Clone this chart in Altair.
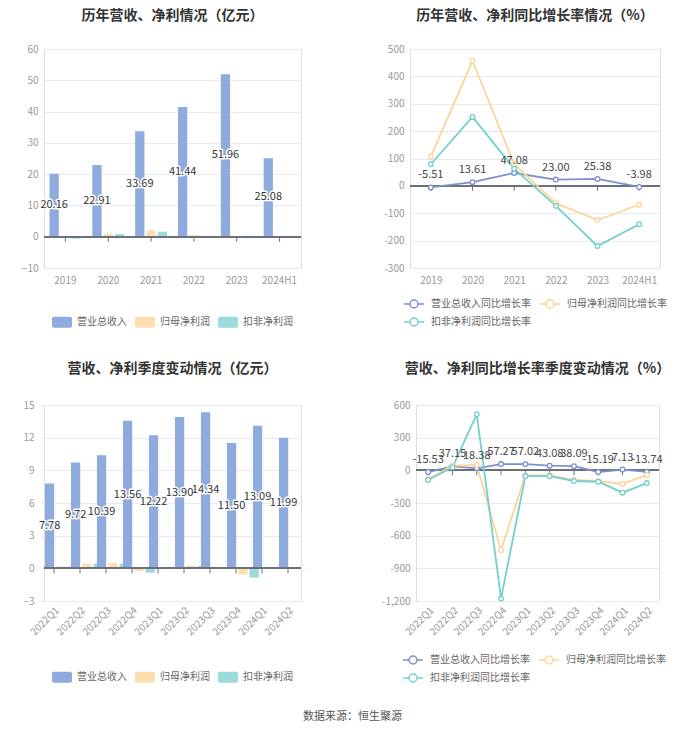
import altair as alt
import pandas as pd

FONT = "Noto Sans CJK SC"

# ---------------- data ----------------
years = ["2019", "2020", "2021", "2022", "2023", "2024H1"]
rev_annual = [20.16, 22.91, 33.69, 41.44, 51.96, 25.08]
np_annual = [-0.10, 0.95, 2.00, 0.60, -0.15, 0.10]
dnp_annual = [-0.60, 0.85, 1.60, 0.30, -0.50, 0.05]

rev_growth_annual = [-5.51, 13.61, 47.08, 23.00, 25.38, -3.98]
np_growth_annual = [107, 457, 79, -63, -125, -69]
dnp_growth_annual = [79, 252, 63, -73, -220, -140]

quarters = ["2022Q1", "2022Q2", "2022Q3", "2022Q4", "2023Q1",
            "2023Q2", "2023Q3", "2023Q4", "2024Q1", "2024Q2"]
rev_q = [7.78, 9.72, 10.39, 13.56, 12.22, 13.90, 14.34, 11.50, 13.09, 11.99]
np_q = [0.18, 0.43, 0.49, -0.24, 0.09, 0.24, 0.01, -0.55, 0.02, 0.12]
dnp_q = [0.15, 0.43, 0.43, -0.40, 0.06, 0.21, 0.01, -0.85, 0.00, 0.01]

rev_growth_q = [-15.53, 37.15, 18.38, 57.27, 57.02, 43.08, 38.09, -15.19, 7.13, -13.74]
np_growth_q = [-80, 42, 49, -733, -47, -47, -88, -100, -125, -42]
dnp_growth_q = [-89, 28, 515, -1178, -53, -53, -98, -105, -205, -117]

bar_series = ["营业总收入", "归母净利润", "扣非净利润"]
bar_colors = ["#8FAADC", "#FDDFAE", "#9ADCDC"]
line_series = ["营业总收入同比增长率", "归母净利润同比增长率", "扣非净利润同比增长率"]
line_colors = ["#7B90CC", "#FCD598", "#74CFCF"]

AXIS_COLOR = "#6E7079"
GRID_COLOR = "#E6E9F0"
LABEL_COLOR = "#999999"

BAR_SYMBOL = ("M-0.8,-0.55H0.8A0.2,0.2,0,0,1,1,-0.35V0.35A0.2,0.2,0,0,1,0.8,0.55"
              "H-0.8A0.2,0.2,0,0,1,-1,0.35V-0.35A0.2,0.2,0,0,1,-0.8,-0.55Z")
LINE_SYMBOL = ("M-1,0L-0.4,0M0.4,0L1,0M0.4,0A0.4,0.4,0,1,1,-0.4,0"
               "A0.4,0.4,0,1,1,0.4,0Z")


def y_axis(values, ext, fmt_expr=None, pad=6):
    kw = dict(values=values, grid=True, gridColor=GRID_COLOR, domain=False,
              ticks=False, labelColor=LABEL_COLOR, labelFontSize=10,
              labelFont=FONT, labelPadding=pad, title=None, labelOverlap=False,
              labelBound=False, minExtent=ext, maxExtent=ext)
    if fmt_expr:
        kw["labelExpr"] = fmt_expr
    return alt.Axis(**kw)


def x_axis(angle):
    kw = dict(domain=False, ticks=False, labelColor=LABEL_COLOR,
              labelFontSize=10, labelFont=FONT, title=None, grid=False,
              labelOverlap=False)
    if angle:
        kw.update(labelAngle=angle, labelPadding=4)
    else:
        kw.update(labelAngle=0, labelPadding=7)
    return alt.Axis(**kw)


def bar_panel(cats, rev, np_, dnp, dom, step, width, height, ext, title, toff,
              angle, pad_inner, tick_len, legend_x, legend_y, xrange=None, ypad=6):
    rows = []
    for i, c in enumerate(cats):
        for s, arr in zip(bar_series, [rev, np_, dnp]):
            rows.append({"cat": c, "series": s, "value": arr[i],
                         "label": f"{arr[i]:.2f}"})
    df = pd.DataFrame(rows)
    ticks = list(range(dom[0], dom[1] + 1, step))
    yax = y_axis(ticks, ext, pad=ypad)
    skw = dict(domain=cats, paddingInner=pad_inner, paddingOuter=pad_inner / 2)
    if xrange:
        skw["range"] = xrange
    xs = alt.Scale(**skw)
    x = alt.X("cat:N", sort=cats, scale=xs, axis=x_axis(angle))
    xo = alt.XOffset("series:N", sort=bar_series,
                     scale=alt.Scale(domain=bar_series, paddingInner=0.18,
                                     paddingOuter=0.05))
    ys = alt.Scale(domain=dom, nice=False, zero=False)
    base = alt.Chart(df)
    bars = base.mark_bar().encode(
        x=x, xOffset=xo,
        y=alt.Y("value:Q", scale=ys, axis=yax),
        color=alt.Color("series:N", sort=bar_series,
                        scale=alt.Scale(domain=bar_series, range=bar_colors),
                        legend=alt.Legend(
                            title=None, orient="none", direction="horizontal",
                            columns=3, columnPadding=8, legendX=legend_x,
                            legendY=legend_y,
                            symbolType=BAR_SYMBOL, symbolSize=400,
                            symbolStrokeWidth=0, labelFontSize=10,
                            labelFont=FONT, labelColor="#666666",
                            labelOffset=5)),
    )
    zero = base.mark_rule(color=AXIS_COLOR, strokeWidth=1).encode(
        y=alt.Y(datum=0, scale=ys, axis=yax))
    tk = base.transform_filter(alt.datum.series == bar_series[0]).transform_calculate(
        t0="0", t1=str(-tick_len)).mark_rule(color=AXIS_COLOR, strokeWidth=1).encode(
        x=x, y=alt.Y("t0:Q", scale=ys, axis=yax), y2="t1:Q")
    lab = base.transform_filter(alt.datum.series == bar_series[0]).transform_calculate(
        mid="datum.value / 2")
    halo = lab.mark_text(fontSize=11, font=FONT, stroke="white", strokeWidth=3,
                         strokeJoin="round", color="white").encode(
        x=x, xOffset=xo, y=alt.Y("mid:Q", scale=ys, axis=yax), text="label:N")
    txt = lab.mark_text(fontSize=11, font=FONT, color="#333333").encode(
        x=x, xOffset=xo, y=alt.Y("mid:Q", scale=ys, axis=yax), text="label:N")
    return alt.layer(bars, zero, tk, halo, txt).properties(
        width=width, height=height,
        title=alt.TitleParams(title, fontSize=14, font=FONT, fontWeight="bold",
                              color="#333333", anchor="middle", offset=toff))


def line_panel(cats, rev, np_, dnp, dom, step, width, height, ext, title, toff,
               angle, tick_len, legend_x, legend_y, fmt_expr):
    rows = []
    for i, c in enumerate(cats):
        for s, arr in zip(line_series, [rev, np_, dnp]):
            rows.append({"cat": c, "series": s, "value": arr[i],
                         "label": f"{arr[i]:.2f}"})
    df = pd.DataFrame(rows)
    ticks = list(range(dom[0], dom[1] + 1, step))
    yax = y_axis(ticks, ext, fmt_expr)
    x = alt.X("cat:N", sort=cats, scale=alt.Scale(domain=cats, padding=0.5,
                                                   type="point"),
              axis=x_axis(angle))
    ys = alt.Scale(domain=dom, nice=False, zero=False)
    color = alt.Color("series:N", sort=line_series,
                      scale=alt.Scale(domain=line_series, range=line_colors),
                      legend=alt.Legend(
                          title=None, orient="none", direction="horizontal",
                          columns=2, columnPadding=6, rowPadding=-1,
                          legendX=legend_x, legendY=legend_y,
                          symbolType=LINE_SYMBOL, symbolSize=400,
                          symbolStrokeWidth=1.5, symbolFillColor="white",
                          labelFontSize=10, labelFont=FONT,
                          labelColor="#666666", labelOffset=6))
    base = alt.Chart(df)
    zero = base.mark_rule(color=AXIS_COLOR, strokeWidth=1).encode(
        y=alt.Y(datum=0, scale=ys, axis=yax))
    tk = base.transform_filter(alt.datum.series == line_series[0]).transform_calculate(
        t0="0", t1=str(-tick_len)).mark_rule(color=AXIS_COLOR, strokeWidth=1).encode(
        x=x, y=alt.Y("t0:Q", scale=ys, axis=yax), y2="t1:Q")
    lines = base.mark_line(strokeWidth=1.8).encode(
        x=x, y=alt.Y("value:Q", scale=ys, axis=yax), color=color)
    pts = base.mark_point(filled=False, fill="white", fillOpacity=1, size=22,
                          strokeWidth=1.3, opacity=1).encode(
        x=x, y=alt.Y("value:Q", scale=ys, axis=yax), color=color)
    txt = base.transform_filter(alt.datum.series == line_series[0]).mark_text(
        fontSize=11, font=FONT, color="#444444", dy=-12).encode(
        x=x, y=alt.Y("value:Q", scale=ys, axis=yax), text="label:N")
    return alt.layer(zero, tk, lines, pts, txt).properties(
        width=width, height=height,
        title=alt.TitleParams(title, fontSize=14, font=FONT, fontWeight="bold",
                              color="#333333", anchor="middle", offset=toff))


neg_fmt = "datum.value < 0 ? '-' + format(-datum.value, ',') : format(datum.value, ',')"

tl = bar_panel(years, rev_annual, np_annual, dnp_annual, [-10, 60], 10, 257, 219, 35,
               "历年营收、净利情况（亿元）", 21, 0, 0.23, 1.6, 8, 263)
tr = line_panel(years, rev_growth_annual, np_growth_annual, dnp_growth_annual,
                [-300, 500], 100, 250, 219, 35, "历年营收、净利同比增长率情况（%）", 21,
                0, 18, -7, 244, neg_fmt)
bl = bar_panel(quarters, rev_q, np_q, dnp_q, [-3, 15], 3, 257, 196, 35,
               "营收、净利季度变动情况（亿元）", 24, -45, 0.26, 0.46, 8, 262,
               xrange=[-3, 257], ypad=10)
br = line_panel(quarters, rev_growth_q, np_growth_q, dnp_growth_q,
                [-1200, 600], 300, 243, 196, 42, "营收、净利同比增长率季度变动情况（%）", 24,
                -45, 46, -14, 244, neg_fmt)

row1 = alt.hconcat(tl, tr, spacing=72).resolve_scale(color="independent", x="independent",
                                                     y="independent")
row2 = alt.hconcat(bl, br, spacing=61).resolve_scale(color="independent", x="independent",
                                                     y="independent")

chart = alt.vconcat(row1, row2, spacing=31).resolve_scale(
    color="independent", x="independent", y="independent").properties(
    padding={"left": 0, "top": 0, "right": 0, "bottom": 0},
    title=alt.TitleParams("数据来源：恒生聚源", orient="bottom", anchor="middle",
                          fontSize=11, font=FONT, fontWeight="normal",
                          color="#555555", offset=25, dx=13),
).configure_view(stroke=None).configure_axis(labelOverlap=False).configure(
    background="white")

chart.save("out.html", embed_options={"renderer": "svg", "actions": False})
